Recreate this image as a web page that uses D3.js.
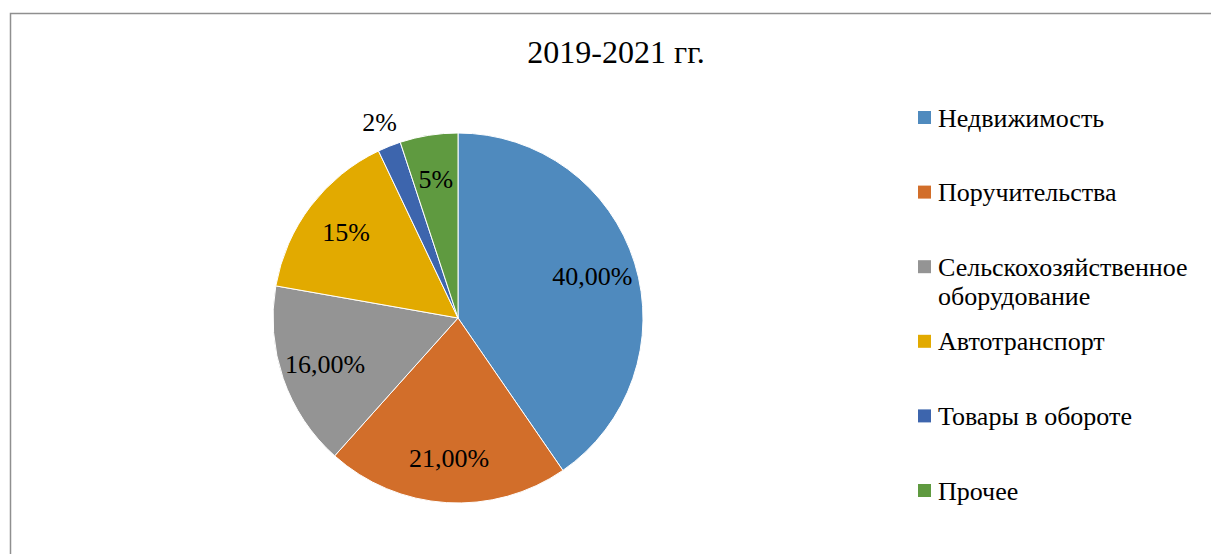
<!DOCTYPE html>
<html>
<head>
<meta charset="utf-8">
<script src="https://cdn.jsdelivr.net/npm/d3@7"></script>
<style>
  html, body { margin: 0; padding: 0; background: #fff; }
  svg text { font-family: "Liberation Serif", "Times New Roman", serif; fill: #000; }
</style>
</head>
<body>
<div id="chart"></div>
<script>
const categories = ["Недвижимость", "Поручительства", "Сельскохозяйственное оборудование",
                    "Автотранспорт", "Товары в обороте", "Прочее"];
const values = [40, 21, 16, 15, 2, 5];
const valueLabels = ["40,00%", "21,00%", "16,00%", "15%", "2%", "5%"];
const colors = ["#4f8abe", "#d26e2a", "#949494", "#e2aa00", "#3d65ad", "#5f9a40"];
const legendLines = [["Недвижимость"], ["Поручительства"], ["Сельскохозяйственное", "оборудование"],
                     ["Автотранспорт"], ["Товары в обороте"], ["Прочее"]];

const W = 1211, H = 554;
const cx = 458, cy = 318, R = 185;

let svg = d3.select("#chart").append("svg")
    .attr("width", W)
    .attr("height", H);

// frame (only top and left edges visible in the crop)
svg.append("path")
    .attr("d", `M10.5,${H} L10.5,13.5 L${W},13.5`)
    .attr("fill", "none")
    .attr("stroke", "#8f8f8f")
    .attr("stroke-width", 1.5);

svg.append("text")
    .attr("x", 616)
    .attr("y", 63)
    .attr("text-anchor", "middle")
    .style("font-size", "32px")
    .text("2019-2021 гг.");

let pie = d3.pie().sort(null).value(d => d)(values);
let arc = d3.arc().innerRadius(0).outerRadius(R);

let g = svg.append("g").attr("transform", `translate(${cx},${cy})`);

g.selectAll("path.slice")
    .data(pie)
    .join("path")
    .attr("class", "slice")
    .attr("d", arc)
    .attr("fill", (d, i) => colors[i])
    .attr("stroke", "#fff")
    .attr("stroke-width", 1);

// data labels: inside for big slices, outside for the tiny one
let inner = d3.arc().innerRadius(R * 0.76).outerRadius(R * 0.76);
let outer = d3.arc().innerRadius(R * 1.14).outerRadius(R * 1.14);

g.selectAll("text.lbl")
    .data(pie)
    .join("text")
    .attr("class", "lbl")
    .attr("transform", d => {
        let c = (d.value < 3 ? outer : inner).centroid(d);
        return `translate(${c[0]},${c[1]})`;
    })
    .attr("text-anchor", "middle")
    .attr("dy", "0.33em")
    .style("font-size", "26px")
    .text((d, i) => valueLabels[i]);

// legend
let legendY = d3.scalePoint()
    .domain(categories)
    .range([118, 491]);

let leg = svg.append("g");
categories.forEach((c, i) => {
    let y = legendY(c);
    leg.append("rect")
        .attr("x", 918)
        .attr("y", y - 7)
        .attr("width", 13)
        .attr("height", 13)
        .attr("fill", colors[i]);
    legendLines[i].forEach((line, k) => {
        leg.append("text")
            .attr("x", 938)
            .attr("y", y + k * 29)
            .attr("dy", "0.33em")
            .style("font-size", "26px")
            .text(line);
    });
});
</script>
</body>
</html>
